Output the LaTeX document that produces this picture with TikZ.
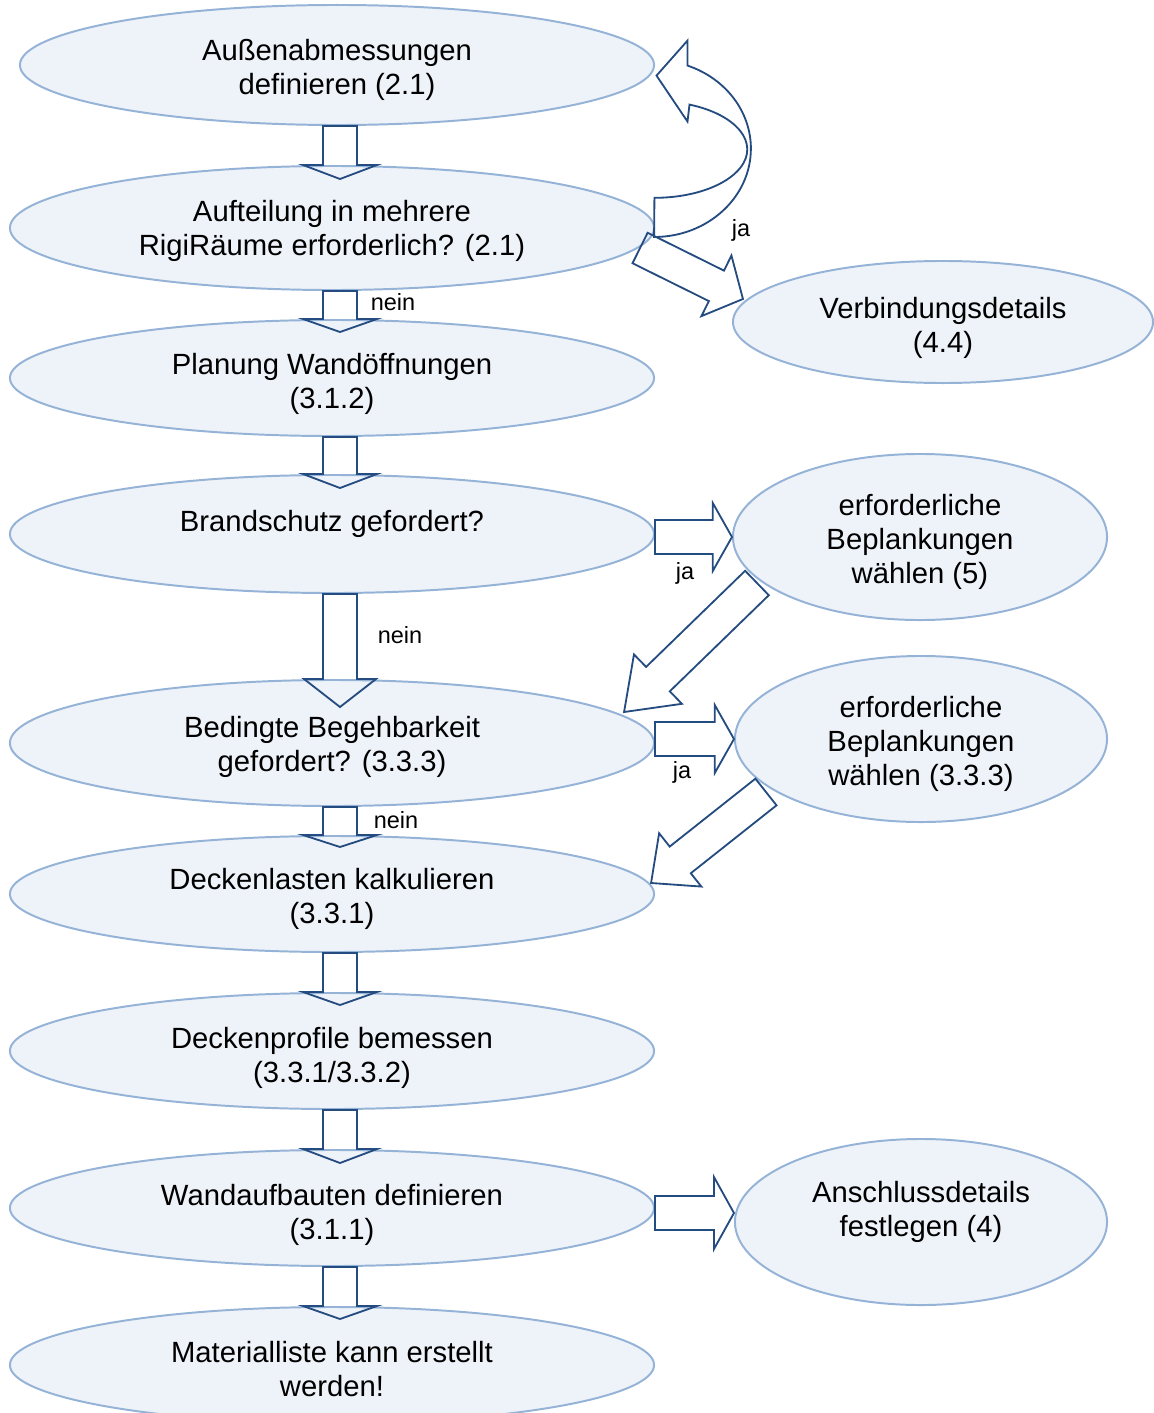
\documentclass[tikz,border=0pt]{standalone}
\usepackage{fontspec}
\setmainfont{Liberation Sans}
\usetikzlibrary{shapes.geometric,calc}
\definecolor{ellborder}{RGB}{149,179,215}
\definecolor{ellfill}{RGB}{238,242,249}
\definecolor{arrowblue}{RGB}{37,76,128}
\newcommand{\blockarrow}[4]{%
	\coordinate (ba-a) at #1;
	\coordinate (ba-b) at #2;
	\coordinate (ba-s) at ($(ba-b)!#3!(ba-a)$);
	\draw[arrowline] ($(ba-a)!0.425cm!90:(ba-b)$) -- ($(ba-s)!0.425cm!90:(ba-b)$) -- ($(ba-s)!#4!90:(ba-b)$) -- (ba-b)
		-- ($(ba-s)!#4!-90:(ba-b)$) -- ($(ba-s)!0.425cm!-90:(ba-b)$) -- ($(ba-a)!0.425cm!-90:(ba-b)$) -- cycle;
}
\begin{document}
\begin{tikzpicture}[x=0.025cm,y=-0.025cm,
	stage/.style={ellipse,draw=ellborder,fill=ellfill,line width=1.4pt,inner sep=0pt,align=center,
		text depth=0.15cm,font=\fontsize{20.8}{24.2}\selectfont},
	arrowline/.style={draw=arrowblue,line width=1.3pt,line join=miter},
	answer/.style={font=\fontsize{16.7}{20}\selectfont,inner sep=0pt}]
	\useasboundingbox (0,0) rectangle (1153,1413);
	\node[stage,minimum width=15.85cm,minimum height=3cm,text height=1.625cm] (v1) at (337,65) {Außenabmessungen\\definieren (2.1)};
	\node[stage,minimum width=16.1cm,minimum height=3.1cm,text height=1.525cm] (v2) at (332,228) {Aufteilung in mehrere\\RigiRäume erforderlich? (2.1)};
	\node[stage,minimum width=16.1cm,minimum height=2.9cm,text height=1.675cm] (v3) at (332,378) {Planung Wandöffnungen\\(3.1.2)};
	\node[stage,minimum width=16.1cm,minimum height=2.95cm,text height=0.55cm,text depth=0.675cm] (v4) at (332,534) {Brandschutz gefordert?};
	\node[stage,minimum width=16.1cm,minimum height=3.15cm,text height=1.575cm] (v5) at (332,743) {Bedingte Begehbarkeit\\gefordert? (3.3.3)};
	\node[stage,minimum width=16.1cm,minimum height=2.9cm,text height=1.625cm] (v6) at (332,894) {Deckenlasten kalkulieren\\(3.3.1)};
	\node[stage,minimum width=16.1cm,minimum height=2.9cm,text height=1.725cm] (v7) at (332,1051) {Deckenprofile bemessen\\(3.3.1/3.3.2)};
	\node[stage,minimum width=16.1cm,minimum height=2.9cm,text height=1.725cm] (v8) at (332,1208) {Wandaufbauten definieren\\(3.1.1)};
	\node[stage,minimum width=16.1cm,minimum height=2.9cm,text height=1.725cm] (v9) at (332,1365) {Materialliste kann erstellt\\werden!};
	\node[stage,minimum width=10.5cm,minimum height=3.05cm,text height=1.675cm] (w1) at (943,322) {Verbindungsdetails\\(4.4)};
	\node[stage,minimum width=9.35cm,minimum height=4.15cm,text height=2.475cm] (w2) at (920,537) {erforderliche\\Beplankungen\\wählen (5)};
	\node[stage,minimum width=9.3cm,minimum height=4.15cm,text height=2.475cm] (w3) at (921,739) {erforderliche\\Beplankungen\\wählen (3.3.3)};
	\node[stage,minimum width=9.3cm,minimum height=4.15cm,text height=1.4cm,text depth=0.675cm] (w4) at (921,1222) {Anschlussdetails\\festlegen (4)};
	\coordinate (ax) at (340,0);
	\blockarrow{(v1.south -| ax)}{($(v2.north -| ax)+(0,14)$)}{0.35cm}{0.925cm}
	\blockarrow{(v2.south -| ax)}{($(v3.north -| ax)+(0,13)$)}{0.325cm}{0.925cm}
	\blockarrow{(v3.south -| ax)}{($(v4.north -| ax)+(0,14)$)}{0.35cm}{0.925cm}
	\blockarrow{(v4.south -| ax)}{($(v5.north -| ax)+(0,28)$)}{0.7cm}{0.9cm}
	\blockarrow{(v5.south -| ax)}{($(v6.north -| ax)+(0,12)$)}{0.3cm}{0.925cm}
	\blockarrow{(v6.south -| ax)}{($(v7.north -| ax)+(0,13)$)}{0.325cm}{0.925cm}
	\blockarrow{(v7.south -| ax)}{($(v8.north -| ax)+(0,14)$)}{0.35cm}{0.925cm}
	\blockarrow{(v8.south -| ax)}{($(v9.north -| ax)+(0,13)$)}{0.325cm}{0.925cm}
	\blockarrow{(v4.east |- w2.west)}{(w2.west)}{0.48cm}{0.85cm}
	\blockarrow{(v5.east |- w3.west)}{(w3.west)}{0.48cm}{0.85cm}
	\blockarrow{($(v8.east)+(0,5)$)}{($(v8.east -| w4.west)+(0,5)$)}{0.5cm}{0.9cm}
	\blockarrow{($(v2.east)+(-15,20)$)}{($(w1.west)+(11,-23)$)}{0.74cm}{0.845cm}
	\blockarrow{($(w2.west)+(25,46)$)}{($(v5.east)+(-31,-31)$)}{1.18cm}{0.86cm}
	\blockarrow{($(w3.west)+(32,53)$)}{($(v6.east)+(-4,-11)$)}{0.93cm}{0.85cm}
	\draw[arrowline] ($(v2.east)+(-1,9)$) arc[start angle=-90,end angle=69.8,x radius=2.42cm,y radius=2.21cm]
		-- ++(0,-25) -- ++(-31,35) -- ++(31,46) -- ++(2,-17)
		arc[start angle=67.8,end angle=-90,x radius=2.32cm,y radius=1.21cm] -- cycle;
	\node[answer] (n1) at (393,302) {nein};
	\node[answer] (n2) at (400,635) {nein};
	\node[answer] (n3) at (396,820) {nein};
	\node[answer] (j1) at (741,230) {ja};
	\node[answer] (j2) at (685,573) {ja};
	\node[answer] (j3) at (682,772) {ja};
\end{tikzpicture}
\end{document}
